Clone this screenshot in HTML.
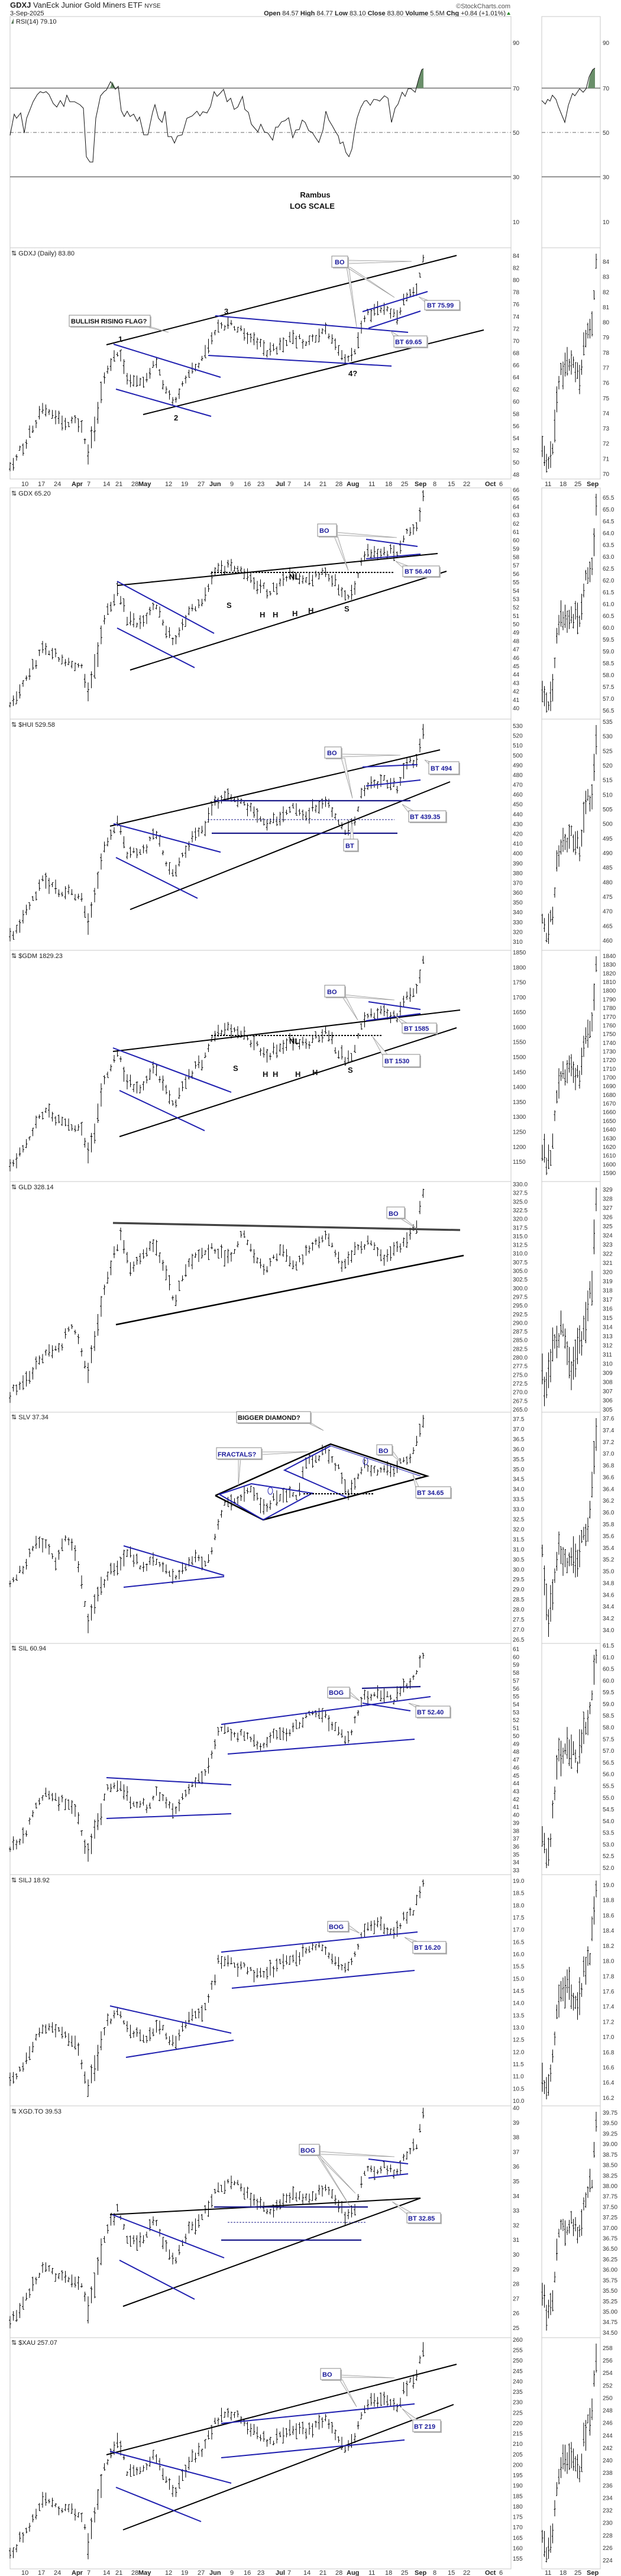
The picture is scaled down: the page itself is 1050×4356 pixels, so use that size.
<!DOCTYPE html>
<html><head><meta charset="utf-8">
<style>
html,body{margin:0;padding:0;background:#fff;}
svg{display:block;}
text{font-family:"Liberation Sans Narrow","Liberation Sans",sans-serif;}
.ax{font-size:10px;fill:#333;}
.ttl{font-size:11px;fill:#222;}
.dt{font-size:11px;fill:#333;}
.dtb{font-size:11px;fill:#222;font-weight:bold;}
.lb{font-size:13px;font-weight:bold;fill:#111;}
.cb{fill:#fff;stroke:#888;stroke-width:1;}
.cs{fill:#bbb;}
.ct{font-size:11px;font-weight:bold;fill:#1a1a9a;}
.ctk{font-size:11px;font-weight:bold;fill:#111;}
.ptr{fill:#f4f4f4;stroke:#999;stroke-width:0.8;}
.bk{stroke:#000;stroke-width:2;fill:none;}
.bl{stroke:#2020b0;stroke-width:2;fill:none;}
.nv{stroke:#1a1a8a;stroke-width:2.2;fill:none;}
.frame{fill:none;stroke:#c8c8c8;stroke-width:1;}
</style></head>
<body>
<svg id="s" width="1050" height="4356" viewBox="0 0 1050 4356" xmlns="http://www.w3.org/2000/svg">
<rect width="1050" height="4356" fill="#fff"/>
<!-- header -->
<text x="17" y="13" style="font-size:13px;fill:#222"><tspan font-weight="bold">GDXJ</tspan> VanEck Junior Gold Miners ETF <tspan style="font-size:10px">NYSE</tspan></text>
<text x="17" y="26" style="font-size:11px;fill:#222">3-Sep-2025</text>
<text x="863" y="14" text-anchor="end" style="font-size:11px;fill:#555">©StockCharts.com</text>
<text x="855" y="26" text-anchor="end" style="font-size:11px;fill:#222"><tspan font-weight="bold">Open</tspan> 84.57 <tspan font-weight="bold">High</tspan> 84.77 <tspan font-weight="bold">Low</tspan> 83.10 <tspan font-weight="bold">Close</tspan> 83.80 <tspan font-weight="bold">Volume</tspan> 5.5M <tspan font-weight="bold">Chg</tspan> +0.84 (+1.01%)</text>
<path d="M857,25 l3,-5 l3,5z" fill="#2a8a2a"/>

<!-- frames -->
<g class="frame">
<rect x="17" y="28" width="847" height="391"/><rect x="916" y="28" width="99" height="391"/>
<rect x="17" y="419" width="847" height="391"/><rect x="916" y="419" width="99" height="391"/>
<rect x="17" y="825" width="847" height="391"/><rect x="916" y="825" width="99" height="391"/>
<rect x="17" y="1216" width="847" height="391"/><rect x="916" y="1216" width="99" height="391"/>
<rect x="17" y="1607" width="847" height="391"/><rect x="916" y="1607" width="99" height="391"/>
<rect x="17" y="1998" width="847" height="390"/><rect x="916" y="1998" width="99" height="390"/>
<rect x="17" y="2388" width="847" height="391"/><rect x="916" y="2388" width="99" height="391"/>
<rect x="17" y="2779" width="847" height="391"/><rect x="916" y="2779" width="99" height="391"/>
<rect x="17" y="3170" width="847" height="391"/><rect x="916" y="3170" width="99" height="391"/>
<rect x="17" y="3561" width="847" height="392"/><rect x="916" y="3561" width="99" height="392"/>
<rect x="17" y="3953" width="847" height="391"/><rect x="916" y="3953" width="99" height="391"/>
</g>

<!-- RSI -->
<text x="27" y="40" class="ttl">RSI(14) 79.10</text>
<path d="M19,40 l4,-9 l0,9z" fill="#5a7a5a"/>
<line x1="17" y1="149" x2="864" y2="149" stroke="#555" stroke-width="1.3"/>
<line x1="17" y1="299" x2="864" y2="299" stroke="#555" stroke-width="1.3"/>
<line x1="17" y1="224" x2="864" y2="224" stroke="#666" stroke-dasharray="6,3,1,3"/>
<line x1="916" y1="149" x2="1015" y2="149" stroke="#555" stroke-width="1.3"/>
<line x1="916" y1="299" x2="1015" y2="299" stroke="#555" stroke-width="1.3"/>
<line x1="916" y1="224" x2="1015" y2="224" stroke="#666" stroke-dasharray="6,3,1,3"/>
<path d="M186,149 L190,138 L195,149Z" fill="#6a8f6a"/>
<path d="M703,149 L708,133 L713,118 L716,116 L716,149Z" fill="#6a8f6a"/>
<path d="M994,149 L997,130 L1002,118 L1006,115 L1006,149Z" fill="#6a8f6a"/>
<polyline fill="none" stroke="#111" stroke-width="1" points="17,229 24,193 28,200 35,191 41,225 45,200 56,172 63,160 68,155 73,157 78,155 83,160 90,175 96,181 102,170 108,180 113,161 118,172 126,172 135,177 141,183 146,265 152,274 157,274 162,200 170,162 176,155 180,152 187,138 195,151 200,146 205,187 210,197 215,188 220,197 226,193 232,205 236,198 243,228 250,228 258,190 262,177 268,200 274,207 279,188 284,231 290,231 295,242 300,230 308,228 316,200 325,196 333,188 338,196 343,189 350,191 356,180 362,155 367,163 372,158 378,151 384,172 390,166 396,185 402,181 410,163 414,185 420,190 425,210 430,216 436,223 441,210 447,223 453,225 461,237 466,215 470,215 476,206 482,204 488,199 495,233 500,220 506,219 511,203 516,207 522,221 528,224 533,232 539,241 546,220 551,188 556,203 562,213 567,222 572,230 575,243 580,240 585,258 590,265 595,252 600,219 604,199 610,182 616,171 620,170 626,178 632,168 638,169 642,171 650,162 656,166 662,207 668,183 673,176 680,156 685,163 690,150 695,150 702,156 708,133 713,118 716,116"/>
<polyline fill="none" stroke="#111" stroke-width="1" points="916,170 922,176 926,168 930,171 934,161 940,168 944,180 955,207 961,178 968,158 972,162 980,150 986,156 991,150 996,130 1002,118 1006,115"/>
<text x="533" y="334" text-anchor="middle" class="lb">Rambus</text>
<text x="528" y="353" text-anchor="middle" class="lb">LOG SCALE</text>
<text class="ax"><tspan x="867" y="76">90</tspan><tspan x="867" y="153">70</tspan><tspan x="867" y="228">50</tspan><tspan x="867" y="303">30</tspan><tspan x="867" y="379">10</tspan></text>
<text class="ax"><tspan x="1019" y="76">90</tspan><tspan x="1019" y="153">70</tspan><tspan x="1019" y="228">50</tspan><tspan x="1019" y="303">30</tspan><tspan x="1019" y="379">10</tspan></text>

<!-- panel titles -->
<g class="ttl">
<text x="19" y="432">⇅ GDXJ (Daily) 83.80</text>
<text x="19" y="838">⇅ GDX 65.20</text>
<text x="19" y="1229">⇅ $HUI 529.58</text>
<text x="19" y="1620">⇅ $GDM 1829.23</text>
<text x="19" y="2011">⇅ GLD 328.14</text>
<text x="19" y="2400">⇅ SLV 37.34</text>
<text x="19" y="2791">⇅ SIL 60.94</text>
<text x="19" y="3183">⇅ SILJ 18.92</text>
<text x="19" y="3574">⇅ XGD.TO 39.53</text>
<text x="19" y="3965">⇅ $XAU 257.07</text>
</g>

<!-- date axes -->
<g id="dates1">
<text class="dt" y="822"><tspan x="36">10</tspan><tspan x="64">17</tspan><tspan x="91">24</tspan><tspan x="147">7</tspan><tspan x="174">14</tspan><tspan x="195">21</tspan><tspan x="222">28</tspan><tspan x="279">12</tspan><tspan x="306">19</tspan><tspan x="334">27</tspan><tspan x="389">9</tspan><tspan x="412">16</tspan><tspan x="435">23</tspan><tspan x="486">7</tspan><tspan x="513">14</tspan><tspan x="540">21</tspan><tspan x="567">28</tspan><tspan x="623">11</tspan><tspan x="651">18</tspan><tspan x="678">25</tspan><tspan x="732">8</tspan><tspan x="757">15</tspan><tspan x="783">22</tspan><tspan x="844">6</tspan><tspan x="921">11</tspan><tspan x="946">18</tspan><tspan x="971">25</tspan></text>
<text class="dtb" y="822"><tspan x="121">Apr</tspan><tspan x="234">May</tspan><tspan x="354">Jun</tspan><tspan x="466">Jul</tspan><tspan x="586">Aug</tspan><tspan x="701">Sep</tspan><tspan x="820">Oct</tspan><tspan x="992">Sep</tspan></text>
</g>
<g>
<text class="dt" y="4354"><tspan x="36">10</tspan><tspan x="64">17</tspan><tspan x="91">24</tspan><tspan x="147">7</tspan><tspan x="174">14</tspan><tspan x="195">21</tspan><tspan x="222">28</tspan><tspan x="279">12</tspan><tspan x="306">19</tspan><tspan x="334">27</tspan><tspan x="389">9</tspan><tspan x="412">16</tspan><tspan x="435">23</tspan><tspan x="486">7</tspan><tspan x="513">14</tspan><tspan x="540">21</tspan><tspan x="567">28</tspan><tspan x="623">11</tspan><tspan x="651">18</tspan><tspan x="678">25</tspan><tspan x="732">8</tspan><tspan x="757">15</tspan><tspan x="783">22</tspan><tspan x="844">6</tspan><tspan x="921">11</tspan><tspan x="946">18</tspan><tspan x="971">25</tspan></text>
<text class="dtb" y="4354"><tspan x="121">Apr</tspan><tspan x="234">May</tspan><tspan x="354">Jun</tspan><tspan x="466">Jul</tspan><tspan x="586">Aug</tspan><tspan x="701">Sep</tspan><tspan x="820">Oct</tspan><tspan x="992">Sep</tspan></text>
</g>

<!-- price axes -->
<g class="ax">
<text x="867" y="436"><tspan x="867" dy="0">84</tspan><tspan x="867" dy="20.56">82</tspan><tspan x="867" dy="20.56">80</tspan><tspan x="867" dy="20.56">78</tspan><tspan x="867" dy="20.56">76</tspan><tspan x="867" dy="20.56">74</tspan><tspan x="867" dy="20.56">72</tspan><tspan x="867" dy="20.56">70</tspan><tspan x="867" dy="20.56">68</tspan><tspan x="867" dy="20.56">66</tspan><tspan x="867" dy="20.56">64</tspan><tspan x="867" dy="20.56">62</tspan><tspan x="867" dy="20.56">60</tspan><tspan x="867" dy="20.56">58</tspan><tspan x="867" dy="20.56">56</tspan><tspan x="867" dy="20.56">54</tspan><tspan x="867" dy="20.56">52</tspan><tspan x="867" dy="20.56">50</tspan><tspan x="867" dy="20.56">48</tspan></text>
<text x="1019" y="446"><tspan x="1019" dy="0">84</tspan><tspan x="1019" dy="25.64">83</tspan><tspan x="1019" dy="25.64">82</tspan><tspan x="1019" dy="25.64">81</tspan><tspan x="1019" dy="25.64">80</tspan><tspan x="1019" dy="25.64">79</tspan><tspan x="1019" dy="25.64">78</tspan><tspan x="1019" dy="25.64">77</tspan><tspan x="1019" dy="25.64">76</tspan><tspan x="1019" dy="25.64">75</tspan><tspan x="1019" dy="25.64">74</tspan><tspan x="1019" dy="25.64">73</tspan><tspan x="1019" dy="25.64">72</tspan><tspan x="1019" dy="25.64">71</tspan><tspan x="1019" dy="25.64">70</tspan></text>

<text x="867" y="832"><tspan x="867" dy="0">66</tspan><tspan x="867" dy="14.19">65</tspan><tspan x="867" dy="14.19">64</tspan><tspan x="867" dy="14.19">63</tspan><tspan x="867" dy="14.19">62</tspan><tspan x="867" dy="14.19">61</tspan><tspan x="867" dy="14.19">60</tspan><tspan x="867" dy="14.19">59</tspan><tspan x="867" dy="14.19">58</tspan><tspan x="867" dy="14.19">57</tspan><tspan x="867" dy="14.19">56</tspan><tspan x="867" dy="14.19">55</tspan><tspan x="867" dy="14.19">54</tspan><tspan x="867" dy="14.19">53</tspan><tspan x="867" dy="14.19">52</tspan><tspan x="867" dy="14.19">51</tspan><tspan x="867" dy="14.19">50</tspan><tspan x="867" dy="14.19">49</tspan><tspan x="867" dy="14.19">48</tspan><tspan x="867" dy="14.19">47</tspan><tspan x="867" dy="14.19">46</tspan><tspan x="867" dy="14.19">45</tspan><tspan x="867" dy="14.19">44</tspan><tspan x="867" dy="14.19">43</tspan><tspan x="867" dy="14.19">42</tspan><tspan x="867" dy="14.19">41</tspan><tspan x="867" dy="14.19">40</tspan></text>
<text x="1019" y="845"><tspan x="1019" dy="0">65.5</tspan><tspan x="1019" dy="20">65.0</tspan><tspan x="1019" dy="20">64.5</tspan><tspan x="1019" dy="20">64.0</tspan><tspan x="1019" dy="20">63.5</tspan><tspan x="1019" dy="20">63.0</tspan><tspan x="1019" dy="20">62.5</tspan><tspan x="1019" dy="20">62.0</tspan><tspan x="1019" dy="20">61.5</tspan><tspan x="1019" dy="20">61.0</tspan><tspan x="1019" dy="20">60.5</tspan><tspan x="1019" dy="20">60.0</tspan><tspan x="1019" dy="20">59.5</tspan><tspan x="1019" dy="20">59.0</tspan><tspan x="1019" dy="20">58.5</tspan><tspan x="1019" dy="20">58.0</tspan><tspan x="1019" dy="20">57.5</tspan><tspan x="1019" dy="20">57.0</tspan><tspan x="1019" dy="20">56.5</tspan></text>

<text x="867" y="1231"><tspan x="867" dy="0">530</tspan><tspan x="867" dy="16.59">520</tspan><tspan x="867" dy="16.59">510</tspan><tspan x="867" dy="16.59">500</tspan><tspan x="867" dy="16.59">490</tspan><tspan x="867" dy="16.59">480</tspan><tspan x="867" dy="16.59">470</tspan><tspan x="867" dy="16.59">460</tspan><tspan x="867" dy="16.59">450</tspan><tspan x="867" dy="16.59">440</tspan><tspan x="867" dy="16.59">430</tspan><tspan x="867" dy="16.59">420</tspan><tspan x="867" dy="16.59">410</tspan><tspan x="867" dy="16.59">400</tspan><tspan x="867" dy="16.59">390</tspan><tspan x="867" dy="16.59">380</tspan><tspan x="867" dy="16.59">370</tspan><tspan x="867" dy="16.59">360</tspan><tspan x="867" dy="16.59">350</tspan><tspan x="867" dy="16.59">340</tspan><tspan x="867" dy="16.59">330</tspan><tspan x="867" dy="16.59">320</tspan><tspan x="867" dy="16.59">310</tspan></text>
<text x="1019" y="1224"><tspan x="1019" dy="0">535</tspan><tspan x="1019" dy="24.67">530</tspan><tspan x="1019" dy="24.67">525</tspan><tspan x="1019" dy="24.67">520</tspan><tspan x="1019" dy="24.67">515</tspan><tspan x="1019" dy="24.67">510</tspan><tspan x="1019" dy="24.67">505</tspan><tspan x="1019" dy="24.67">500</tspan><tspan x="1019" dy="24.67">495</tspan><tspan x="1019" dy="24.67">490</tspan><tspan x="1019" dy="24.67">485</tspan><tspan x="1019" dy="24.67">480</tspan><tspan x="1019" dy="24.67">475</tspan><tspan x="1019" dy="24.67">470</tspan><tspan x="1019" dy="24.67">465</tspan><tspan x="1019" dy="24.67">460</tspan></text>

<text x="867" y="1614"><tspan x="867" dy="0">1850</tspan><tspan x="867" dy="25.29">1800</tspan><tspan x="867" dy="25.29">1750</tspan><tspan x="867" dy="25.29">1700</tspan><tspan x="867" dy="25.29">1650</tspan><tspan x="867" dy="25.29">1600</tspan><tspan x="867" dy="25.29">1550</tspan><tspan x="867" dy="25.29">1500</tspan><tspan x="867" dy="25.29">1450</tspan><tspan x="867" dy="25.29">1400</tspan><tspan x="867" dy="25.29">1350</tspan><tspan x="867" dy="25.29">1300</tspan><tspan x="867" dy="25.29">1250</tspan><tspan x="867" dy="25.29">1200</tspan><tspan x="867" dy="25.29">1150</tspan></text>
<text x="1019" y="1620"><tspan x="1019" dy="0">1840</tspan><tspan x="1019" dy="14.68">1830</tspan><tspan x="1019" dy="14.68">1820</tspan><tspan x="1019" dy="14.68">1810</tspan><tspan x="1019" dy="14.68">1800</tspan><tspan x="1019" dy="14.68">1790</tspan><tspan x="1019" dy="14.68">1780</tspan><tspan x="1019" dy="14.68">1770</tspan><tspan x="1019" dy="14.68">1760</tspan><tspan x="1019" dy="14.68">1750</tspan><tspan x="1019" dy="14.68">1740</tspan><tspan x="1019" dy="14.68">1730</tspan><tspan x="1019" dy="14.68">1720</tspan><tspan x="1019" dy="14.68">1710</tspan><tspan x="1019" dy="14.68">1700</tspan><tspan x="1019" dy="14.68">1690</tspan><tspan x="1019" dy="14.68">1680</tspan><tspan x="1019" dy="14.68">1670</tspan><tspan x="1019" dy="14.68">1660</tspan><tspan x="1019" dy="14.68">1650</tspan><tspan x="1019" dy="14.68">1640</tspan><tspan x="1019" dy="14.68">1630</tspan><tspan x="1019" dy="14.68">1620</tspan><tspan x="1019" dy="14.68">1610</tspan><tspan x="1019" dy="14.68">1600</tspan><tspan x="1019" dy="14.68">1590</tspan></text>

<text x="867" y="2006"><tspan x="867" dy="0">330.0</tspan><tspan x="867" dy="14.65">327.5</tspan><tspan x="867" dy="14.65">325.0</tspan><tspan x="867" dy="14.65">322.5</tspan><tspan x="867" dy="14.65">320.0</tspan><tspan x="867" dy="14.65">317.5</tspan><tspan x="867" dy="14.65">315.0</tspan><tspan x="867" dy="14.65">312.5</tspan><tspan x="867" dy="14.65">310.0</tspan><tspan x="867" dy="14.65">307.5</tspan><tspan x="867" dy="14.65">305.0</tspan><tspan x="867" dy="14.65">302.5</tspan><tspan x="867" dy="14.65">300.0</tspan><tspan x="867" dy="14.65">297.5</tspan><tspan x="867" dy="14.65">295.0</tspan><tspan x="867" dy="14.65">292.5</tspan><tspan x="867" dy="14.65">290.0</tspan><tspan x="867" dy="14.65">287.5</tspan><tspan x="867" dy="14.65">285.0</tspan><tspan x="867" dy="14.65">282.5</tspan><tspan x="867" dy="14.65">280.0</tspan><tspan x="867" dy="14.65">277.5</tspan><tspan x="867" dy="14.65">275.0</tspan><tspan x="867" dy="14.65">272.5</tspan><tspan x="867" dy="14.65">270.0</tspan><tspan x="867" dy="14.65">267.5</tspan><tspan x="867" dy="14.65">265.0</tspan></text>
<text x="1019" y="2015"><tspan x="1019" dy="0">329</tspan><tspan x="1019" dy="15.5">328</tspan><tspan x="1019" dy="15.5">327</tspan><tspan x="1019" dy="15.5">326</tspan><tspan x="1019" dy="15.5">325</tspan><tspan x="1019" dy="15.5">324</tspan><tspan x="1019" dy="15.5">323</tspan><tspan x="1019" dy="15.5">322</tspan><tspan x="1019" dy="15.5">321</tspan><tspan x="1019" dy="15.5">320</tspan><tspan x="1019" dy="15.5">319</tspan><tspan x="1019" dy="15.5">318</tspan><tspan x="1019" dy="15.5">317</tspan><tspan x="1019" dy="15.5">316</tspan><tspan x="1019" dy="15.5">315</tspan><tspan x="1019" dy="15.5">314</tspan><tspan x="1019" dy="15.5">313</tspan><tspan x="1019" dy="15.5">312</tspan><tspan x="1019" dy="15.5">311</tspan><tspan x="1019" dy="15.5">310</tspan><tspan x="1019" dy="15.5">309</tspan><tspan x="1019" dy="15.5">308</tspan><tspan x="1019" dy="15.5">307</tspan><tspan x="1019" dy="15.5">306</tspan><tspan x="1019" dy="15.5">305</tspan></text>

<text x="867" y="2403"><tspan x="867" dy="0">37.5</tspan><tspan x="867" dy="16.95">37.0</tspan><tspan x="867" dy="16.95">36.5</tspan><tspan x="867" dy="16.95">36.0</tspan><tspan x="867" dy="16.95">35.5</tspan><tspan x="867" dy="16.95">35.0</tspan><tspan x="867" dy="16.95">34.5</tspan><tspan x="867" dy="16.95">34.0</tspan><tspan x="867" dy="16.95">33.5</tspan><tspan x="867" dy="16.95">33.0</tspan><tspan x="867" dy="16.95">32.5</tspan><tspan x="867" dy="16.95">32.0</tspan><tspan x="867" dy="16.95">31.5</tspan><tspan x="867" dy="16.95">31.0</tspan><tspan x="867" dy="16.95">30.5</tspan><tspan x="867" dy="16.95">30.0</tspan><tspan x="867" dy="16.95">29.5</tspan><tspan x="867" dy="16.95">29.0</tspan><tspan x="867" dy="16.95">28.5</tspan><tspan x="867" dy="16.95">28.0</tspan><tspan x="867" dy="16.95">27.5</tspan><tspan x="867" dy="16.95">27.0</tspan><tspan x="867" dy="16.95">26.5</tspan></text>
<text x="1019" y="2402"><tspan x="1019" dy="0">37.6</tspan><tspan x="1019" dy="19.89">37.4</tspan><tspan x="1019" dy="19.89">37.2</tspan><tspan x="1019" dy="19.89">37.0</tspan><tspan x="1019" dy="19.89">36.8</tspan><tspan x="1019" dy="19.89">36.6</tspan><tspan x="1019" dy="19.89">36.4</tspan><tspan x="1019" dy="19.89">36.2</tspan><tspan x="1019" dy="19.89">36.0</tspan><tspan x="1019" dy="19.89">35.8</tspan><tspan x="1019" dy="19.89">35.6</tspan><tspan x="1019" dy="19.89">35.4</tspan><tspan x="1019" dy="19.89">35.2</tspan><tspan x="1019" dy="19.89">35.0</tspan><tspan x="1019" dy="19.89">34.8</tspan><tspan x="1019" dy="19.89">34.6</tspan><tspan x="1019" dy="19.89">34.4</tspan><tspan x="1019" dy="19.89">34.2</tspan><tspan x="1019" dy="19.89">34.0</tspan></text>

<text x="867" y="2792"><tspan x="867" dy="0">61</tspan><tspan x="867" dy="13.36">60</tspan><tspan x="867" dy="13.36">59</tspan><tspan x="867" dy="13.36">58</tspan><tspan x="867" dy="13.36">57</tspan><tspan x="867" dy="13.36">56</tspan><tspan x="867" dy="13.36">55</tspan><tspan x="867" dy="13.36">54</tspan><tspan x="867" dy="13.36">53</tspan><tspan x="867" dy="13.36">52</tspan><tspan x="867" dy="13.36">51</tspan><tspan x="867" dy="13.36">50</tspan><tspan x="867" dy="13.36">49</tspan><tspan x="867" dy="13.36">48</tspan><tspan x="867" dy="13.36">47</tspan><tspan x="867" dy="13.36">46</tspan><tspan x="867" dy="13.36">45</tspan><tspan x="867" dy="13.36">44</tspan><tspan x="867" dy="13.36">43</tspan><tspan x="867" dy="13.36">42</tspan><tspan x="867" dy="13.36">41</tspan><tspan x="867" dy="13.36">40</tspan><tspan x="867" dy="13.36">39</tspan><tspan x="867" dy="13.36">38</tspan><tspan x="867" dy="13.36">37</tspan><tspan x="867" dy="13.36">36</tspan><tspan x="867" dy="13.36">35</tspan><tspan x="867" dy="13.36">34</tspan><tspan x="867" dy="13.36">33</tspan></text>
<text x="1019" y="2786"><tspan x="1019" dy="0">61.5</tspan><tspan x="1019" dy="19.79">61.0</tspan><tspan x="1019" dy="19.79">60.5</tspan><tspan x="1019" dy="19.79">60.0</tspan><tspan x="1019" dy="19.79">59.5</tspan><tspan x="1019" dy="19.79">59.0</tspan><tspan x="1019" dy="19.79">58.5</tspan><tspan x="1019" dy="19.79">58.0</tspan><tspan x="1019" dy="19.79">57.5</tspan><tspan x="1019" dy="19.79">57.0</tspan><tspan x="1019" dy="19.79">56.5</tspan><tspan x="1019" dy="19.79">56.0</tspan><tspan x="1019" dy="19.79">55.5</tspan><tspan x="1019" dy="19.79">55.0</tspan><tspan x="1019" dy="19.79">54.5</tspan><tspan x="1019" dy="19.79">54.0</tspan><tspan x="1019" dy="19.79">53.5</tspan><tspan x="1019" dy="19.79">53.0</tspan><tspan x="1019" dy="19.79">52.5</tspan><tspan x="1019" dy="19.79">52.0</tspan></text>

<text x="867" y="3184"><tspan x="867" dy="0">19.0</tspan><tspan x="867" dy="20.67">18.5</tspan><tspan x="867" dy="20.67">18.0</tspan><tspan x="867" dy="20.67">17.5</tspan><tspan x="867" dy="20.67">17.0</tspan><tspan x="867" dy="20.67">16.5</tspan><tspan x="867" dy="20.67">16.0</tspan><tspan x="867" dy="20.67">15.5</tspan><tspan x="867" dy="20.67">15.0</tspan><tspan x="867" dy="20.67">14.5</tspan><tspan x="867" dy="20.67">14.0</tspan><tspan x="867" dy="20.67">13.5</tspan><tspan x="867" dy="20.67">13.0</tspan><tspan x="867" dy="20.67">12.5</tspan><tspan x="867" dy="20.67">12.0</tspan><tspan x="867" dy="20.67">11.5</tspan><tspan x="867" dy="20.67">11.0</tspan><tspan x="867" dy="20.67">10.5</tspan><tspan x="867" dy="20.67">10.0</tspan></text>
<text x="1019" y="3191"><tspan x="1019" dy="0">19.0</tspan><tspan x="1019" dy="25.71">18.8</tspan><tspan x="1019" dy="25.71">18.6</tspan><tspan x="1019" dy="25.71">18.4</tspan><tspan x="1019" dy="25.71">18.2</tspan><tspan x="1019" dy="25.71">18.0</tspan><tspan x="1019" dy="25.71">17.8</tspan><tspan x="1019" dy="25.71">17.6</tspan><tspan x="1019" dy="25.71">17.4</tspan><tspan x="1019" dy="25.71">17.2</tspan><tspan x="1019" dy="25.71">17.0</tspan><tspan x="1019" dy="25.71">16.8</tspan><tspan x="1019" dy="25.71">16.6</tspan><tspan x="1019" dy="25.71">16.4</tspan><tspan x="1019" dy="25.71">16.2</tspan></text>

<text x="867" y="3568"><tspan x="867" dy="0">40</tspan><tspan x="867" dy="24.8">39</tspan><tspan x="867" dy="24.8">38</tspan><tspan x="867" dy="24.8">37</tspan><tspan x="867" dy="24.8">36</tspan><tspan x="867" dy="24.8">35</tspan><tspan x="867" dy="24.8">34</tspan><tspan x="867" dy="24.8">33</tspan><tspan x="867" dy="24.8">32</tspan><tspan x="867" dy="24.8">31</tspan><tspan x="867" dy="24.8">30</tspan><tspan x="867" dy="24.8">29</tspan><tspan x="867" dy="24.8">28</tspan><tspan x="867" dy="24.8">27</tspan><tspan x="867" dy="24.8">26</tspan><tspan x="867" dy="24.8">25</tspan></text>
<text x="1019" y="3576"><tspan x="1019" dy="0">39.75</tspan><tspan x="1019" dy="17.71">39.50</tspan><tspan x="1019" dy="17.71">39.25</tspan><tspan x="1019" dy="17.71">39.00</tspan><tspan x="1019" dy="17.71">38.75</tspan><tspan x="1019" dy="17.71">38.50</tspan><tspan x="1019" dy="17.71">38.25</tspan><tspan x="1019" dy="17.71">38.00</tspan><tspan x="1019" dy="17.71">37.75</tspan><tspan x="1019" dy="17.71">37.50</tspan><tspan x="1019" dy="17.71">37.25</tspan><tspan x="1019" dy="17.71">37.00</tspan><tspan x="1019" dy="17.71">36.75</tspan><tspan x="1019" dy="17.71">36.50</tspan><tspan x="1019" dy="17.71">36.25</tspan><tspan x="1019" dy="17.71">36.00</tspan><tspan x="1019" dy="17.71">35.75</tspan><tspan x="1019" dy="17.71">35.50</tspan><tspan x="1019" dy="17.71">35.25</tspan><tspan x="1019" dy="17.71">35.00</tspan><tspan x="1019" dy="17.71">34.75</tspan><tspan x="1019" dy="17.71">34.50</tspan></text>

<text x="867" y="3960"><tspan x="867" dy="0">260</tspan><tspan x="867" dy="17.62">255</tspan><tspan x="867" dy="17.62">250</tspan><tspan x="867" dy="17.62">245</tspan><tspan x="867" dy="17.62">240</tspan><tspan x="867" dy="17.62">235</tspan><tspan x="867" dy="17.62">230</tspan><tspan x="867" dy="17.62">225</tspan><tspan x="867" dy="17.62">220</tspan><tspan x="867" dy="17.62">215</tspan><tspan x="867" dy="17.62">210</tspan><tspan x="867" dy="17.62">205</tspan><tspan x="867" dy="17.62">200</tspan><tspan x="867" dy="17.62">195</tspan><tspan x="867" dy="17.62">190</tspan><tspan x="867" dy="17.62">185</tspan><tspan x="867" dy="17.62">180</tspan><tspan x="867" dy="17.62">175</tspan><tspan x="867" dy="17.62">170</tspan><tspan x="867" dy="17.62">165</tspan><tspan x="867" dy="17.62">160</tspan><tspan x="867" dy="17.62">155</tspan></text>
<text x="1019" y="3974"><tspan x="1019" dy="0">258</tspan><tspan x="1019" dy="21.12">256</tspan><tspan x="1019" dy="21.12">254</tspan><tspan x="1019" dy="21.12">252</tspan><tspan x="1019" dy="21.12">250</tspan><tspan x="1019" dy="21.12">248</tspan><tspan x="1019" dy="21.12">246</tspan><tspan x="1019" dy="21.12">244</tspan><tspan x="1019" dy="21.12">242</tspan><tspan x="1019" dy="21.12">240</tspan><tspan x="1019" dy="21.12">238</tspan><tspan x="1019" dy="21.12">236</tspan><tspan x="1019" dy="21.12">234</tspan><tspan x="1019" dy="21.12">232</tspan><tspan x="1019" dy="21.12">230</tspan><tspan x="1019" dy="21.12">228</tspan><tspan x="1019" dy="21.12">226</tspan><tspan x="1019" dy="21.12">224</tspan></text>
</g>

<g id="bars" stroke="#000" stroke-width="1" fill="none"></g>

<!-- ===== annotations ===== -->
<!-- GDXJ -->
<g>
<line class="bk" x1="180" y1="583" x2="772" y2="432"/>
<line class="bk" x1="242" y1="701" x2="818" y2="558"/>
<line class="bl" x1="192" y1="582" x2="373" y2="638"/>
<line class="bl" x1="196" y1="658" x2="357" y2="704"/>
<line class="bl" x1="364" y1="534" x2="690" y2="562"/>
<line class="bl" x1="352" y1="601" x2="662" y2="619"/>
<line class="bl" x1="613" y1="527" x2="723" y2="493"/>
<line class="bl" x1="623" y1="555" x2="711" y2="526"/>
<text x="200" y="578" class="lb">1</text><text x="294" y="711" class="lb">2</text><text x="379" y="531" class="lb">3</text><text x="589" y="636" class="lb">4?</text>
<path class="ptr" d="M240,551 L285,562 L250,551Z"/>
<rect class="cs" x="119" y="535" width="137" height="19"/><rect class="cb" x="117" y="533" width="137" height="19"/><text x="120" y="547" class="ctk">BULLISH RISING FLAG?</text>
<path class="ptr" d="M588,440 L696,442 L588,446Z"/>
<path class="ptr" d="M586,452 L603,553 L590,452Z"/>
<path class="ptr" d="M586,452 L667,503 L592,452Z"/>
<rect class="cs" x="563" y="435" width="27" height="19"/><rect class="cb" x="561" y="433" width="27" height="19"/><text x="566" y="447" class="ct">BO</text>
<path class="ptr" d="M718,510 L708,502 L724,508Z"/>
<rect class="cs" x="720" y="510" width="59" height="16"/><rect class="cb" x="718" y="508" width="59" height="16"/><text x="722" y="520" class="ct">BT 75.99</text>
<path class="ptr" d="M666,570 L661,560 L674,568Z"/>
<rect class="cs" x="668" y="570" width="56" height="19"/><rect class="cb" x="666" y="568" width="56" height="19"/><text x="668" y="582" class="ct">BT 69.65</text>
</g>

<!-- GDX -->
<g>
<line class="bk" x1="198" y1="990" x2="740" y2="936"/>
<line class="bk" x1="220" y1="1133" x2="755" y2="966"/>
<line class="bl" x1="198" y1="983" x2="362" y2="1071"/>
<line class="bl" x1="198" y1="1062" x2="329" y2="1129"/>
<line x1="357" y1="968" x2="667" y2="968" stroke="#000" stroke-width="2" stroke-dasharray="3,2"/>
<line class="bl" x1="619" y1="912" x2="706" y2="924"/>
<line class="bl" x1="619" y1="945" x2="711" y2="937"/>
<text x="383" y="1028" class="lb">S</text><text x="439" y="1044" class="lb">H</text><text x="461" y="1044" class="lb">H</text><text x="494" y="1042" class="lb">H</text><text x="521" y="1037" class="lb">H</text><text x="582" y="1034" class="lb">S</text><text x="489" y="980" class="lb">NL</text>
<path class="ptr" d="M569,900 L671,909 L569,905Z"/>
<path class="ptr" d="M565,907 L589,965 L571,907Z"/>
<rect class="cs" x="539" y="888" width="32" height="21"/><rect class="cb" x="537" y="886" width="32" height="21"/><text x="540" y="901" class="ct">BO</text>
<path class="ptr" d="M681,960 L669,949 L690,957Z"/>
<rect class="cs" x="683" y="959" width="62" height="18"/><rect class="cb" x="681" y="957" width="62" height="18"/><text x="684" y="970" class="ct">BT 56.40</text>
</g>

<!-- HUI -->
<g>
<line class="bk" x1="186" y1="1397" x2="744" y2="1268"/>
<line class="bk" x1="220" y1="1538" x2="761" y2="1322"/>
<line class="bl" x1="192" y1="1393" x2="373" y2="1441"/>
<line class="bl" x1="196" y1="1450" x2="334" y2="1519"/>
<line class="nv" x1="362" y1="1354" x2="694" y2="1354"/>
<line class="nv" x1="358" y1="1409" x2="672" y2="1409"/>
<line x1="351" y1="1386" x2="667" y2="1386" stroke="#1a1a8a" stroke-width="1" stroke-dasharray="3,2"/>
<line class="bl" x1="613" y1="1297" x2="706" y2="1293"/>
<line class="bl" x1="619" y1="1329" x2="711" y2="1319"/>
<path class="ptr" d="M577,1275 L677,1277 L577,1280Z"/>
<path class="ptr" d="M577,1282 L596,1350 L583,1282Z"/>
<rect class="cs" x="551" y="1265" width="28" height="19"/><rect class="cb" x="549" y="1263" width="28" height="19"/><text x="553" y="1277" class="ct">BO</text>
<path class="ptr" d="M725,1292 L718,1285 L733,1290Z"/>
<rect class="cs" x="727" y="1290" width="51" height="21"/><rect class="cb" x="725" y="1288" width="51" height="21"/><text x="728" y="1303" class="ct">BT 494</text>
<path class="ptr" d="M691,1374 L680,1360 L699,1371Z"/>
<rect class="cs" x="693" y="1373" width="63" height="19"/><rect class="cb" x="691" y="1371" width="63" height="19"/><text x="693" y="1385" class="ct">BT 439.35</text>
<path class="ptr" d="M592,1419 L595,1389 L598,1419Z"/>
<rect class="cs" x="583" y="1421" width="24" height="20"/><rect class="cb" x="581" y="1419" width="24" height="20"/><text x="584" y="1434" class="ct">BT</text>
</g>

<!-- GDM -->
<g>
<line class="bk" x1="191" y1="1778" x2="778" y2="1708"/>
<line class="bk" x1="202" y1="1922" x2="772" y2="1738"/>
<line class="bl" x1="191" y1="1772" x2="391" y2="1847"/>
<line class="bl" x1="202" y1="1844" x2="346" y2="1912"/>
<line x1="357" y1="1751" x2="646" y2="1751" stroke="#000" stroke-width="2" stroke-dasharray="3,2"/>
<line class="bl" x1="623" y1="1694" x2="711" y2="1707"/>
<line class="bl" x1="619" y1="1726" x2="711" y2="1714"/>
<text x="394" y="1811" class="lb">S</text><text x="444" y="1821" class="lb">H</text><text x="461" y="1821" class="lb">H</text><text x="499" y="1821" class="lb">H</text><text x="528" y="1818" class="lb">H</text><text x="588" y="1814" class="lb">S</text><text x="489" y="1765" class="lb">NL</text>
<path class="ptr" d="M583,1682 L667,1691 L583,1686Z"/>
<path class="ptr" d="M579,1686 L605,1725 L585,1686Z"/>
<rect class="cs" x="551" y="1668" width="34" height="20"/><rect class="cb" x="549" y="1666" width="34" height="20"/><text x="553" y="1681" class="ct">BO</text>
<path class="ptr" d="M680,1732 L669,1718 L688,1730Z"/>
<rect class="cs" x="682" y="1732" width="58" height="17"/><rect class="cb" x="680" y="1730" width="58" height="17"/><text x="683" y="1743" class="ct">BT 1585</text>
<path class="ptr" d="M647,1785 L630,1753 L655,1783Z"/>
<rect class="cs" x="649" y="1785" width="63" height="21"/><rect class="cb" x="647" y="1783" width="63" height="21"/><text x="650" y="1798" class="ct">BT 1530</text>
</g>

<!-- GLD -->
<g>
<line x1="191" y1="2068" x2="778" y2="2080" stroke="#000" stroke-width="3"/>
<line x1="191" y1="2068" x2="778" y2="2080" stroke="#888" stroke-width="1"/>
<line class="bk" x1="196" y1="2240" x2="784" y2="2123" style="stroke-width:2.5"/>
<path class="ptr" d="M676,2060 L705,2078 L684,2060Z"/>
<rect class="cs" x="656" y="2043" width="30" height="19"/><rect class="cb" x="654" y="2041" width="30" height="19"/><text x="657" y="2056" class="ct">BO</text>
</g>

<!-- SLV -->
<g>
<line class="bl" x1="209" y1="2614" x2="379" y2="2664"/>
<line class="bl" x1="209" y1="2684" x2="379" y2="2666"/>
<polyline class="bk" points="364,2529 559,2442 722,2496 445,2570 364,2529" style="stroke-width:2.5"/>
<polygon class="bl" points="371,2527 425,2509 528,2525 445,2570"/>
<polyline class="bl" points="586,2532 481,2486 559,2445"/>
<line x1="559" y1="2445" x2="711" y2="2496" stroke="#2020b0" stroke-width="1"/>
<line x1="513" y1="2526" x2="633" y2="2526" stroke="#000" stroke-width="2" stroke-dasharray="3,2"/>
<ellipse cx="457" cy="2521" rx="4" ry="6" fill="none" stroke="#2020b0"/>
<ellipse cx="618" cy="2471" rx="4" ry="6" fill="none" stroke="#2020b0"/>
<path class="ptr" d="M520,2406 L547,2419 L526,2406Z"/>
<rect class="cs" x="402" y="2389" width="125" height="19"/><rect class="cb" x="400" y="2387" width="125" height="19"/><text x="402" y="2401" class="ctk">BIGGER DIAMOND?</text>
<path class="ptr" d="M442,2455 L522,2455 L442,2460Z"/>
<path class="ptr" d="M403,2467 L403,2512 L407,2467Z"/>
<rect class="cs" x="368" y="2450" width="76" height="19"/><rect class="cb" x="366" y="2448" width="76" height="19"/><text x="368" y="2463" class="ct">FRACTALS?</text>
<path class="ptr" d="M660,2458 L678,2473 L663,2452Z"/>
<rect class="cs" x="639" y="2445" width="26" height="17"/><rect class="cb" x="637" y="2443" width="26" height="17"/><text x="640" y="2457" class="ct">BO</text>
<path class="ptr" d="M703,2516 L698,2493 L708,2514Z"/>
<rect class="cs" x="705" y="2516" width="59" height="19"/><rect class="cb" x="703" y="2514" width="59" height="19"/><text x="705" y="2528" class="ct">BT 34.65</text>
</g>

<!-- SIL -->
<g>
<line class="bl" x1="180" y1="3006" x2="391" y2="3018"/>
<line class="bl" x1="180" y1="3075" x2="391" y2="3067"/>
<line class="bl" x1="374" y1="2916" x2="728" y2="2869"/>
<line class="bl" x1="385" y1="2966" x2="701" y2="2941"/>
<line class="nv" x1="612" y1="2855" x2="711" y2="2852"/>
<line class="bl" x1="613" y1="2880" x2="694" y2="2893"/>
<path class="ptr" d="M589,2865 L608,2876 L591,2860Z"/>
<rect class="cs" x="556" y="2855" width="37" height="18"/><rect class="cb" x="554" y="2853" width="37" height="18"/><text x="556" y="2866" class="ct">BOG</text>
<path class="ptr" d="M703,2887 L691,2880 L711,2885Z"/>
<rect class="cs" x="705" y="2887" width="58" height="19"/><rect class="cb" x="703" y="2885" width="58" height="19"/><text x="705" y="2899" class="ct">BT 52.40</text>
</g>

<!-- SILJ -->
<g>
<line class="bl" x1="186" y1="3392" x2="391" y2="3438"/>
<line class="bl" x1="213" y1="3479" x2="395" y2="3450"/>
<line class="bl" x1="374" y1="3301" x2="706" y2="3267"/>
<line class="bl" x1="392" y1="3362" x2="701" y2="3332"/>
<path class="ptr" d="M587,3260 L608,3269 L589,3255Z"/>
<rect class="cs" x="556" y="3251" width="35" height="17"/><rect class="cb" x="554" y="3249" width="35" height="17"/><text x="556" y="3262" class="ct">BOG</text>
<path class="ptr" d="M698,3286 L684,3276 L706,3283Z"/>
<rect class="cs" x="700" y="3285" width="56" height="20"/><rect class="cb" x="698" y="3283" width="56" height="20"/><text x="700" y="3297" class="ct">BT 16.20</text>
</g>

<!-- XGD -->
<g>
<line class="bk" x1="186" y1="3745" x2="711" y2="3717"/>
<line class="bk" x1="208" y1="3900" x2="711" y2="3717"/>
<line class="bl" x1="190" y1="3745" x2="379" y2="3818"/>
<line class="bl" x1="202" y1="3822" x2="329" y2="3888"/>
<line class="nv" x1="362" y1="3732" x2="622" y2="3732"/>
<line class="nv" x1="374" y1="3788" x2="611" y2="3788"/>
<line x1="385" y1="3758" x2="618" y2="3758" stroke="#1a1a8a" stroke-width="1" stroke-dasharray="3,2"/>
<line class="bl" x1="623" y1="3651" x2="690" y2="3659"/>
<line class="bl" x1="623" y1="3683" x2="690" y2="3676"/>
<path class="ptr" d="M540,3638 L667,3647 L540,3643Z"/>
<path class="ptr" d="M536,3644 L601,3709 L541,3644Z"/>
<path class="ptr" d="M536,3644 L593,3733 L539,3644Z"/>
<rect class="cs" x="508" y="3628" width="34" height="18"/><rect class="cb" x="506" y="3626" width="34" height="18"/><text x="508" y="3640" class="ct">BOG</text>
<path class="ptr" d="M688,3744 L663,3723 L696,3742Z"/>
<rect class="cs" x="690" y="3744" width="57" height="17"/><rect class="cb" x="688" y="3742" width="57" height="17"/><text x="690" y="3755" class="ct">BT 32.85</text>
</g>

<!-- XAU -->
<g>
<line class="bk" x1="180" y1="4151" x2="772" y2="3998"/>
<line class="bk" x1="208" y1="4278" x2="767" y2="4066"/>
<line class="bl" x1="186" y1="4145" x2="391" y2="4199"/>
<line class="bl" x1="196" y1="4206" x2="340" y2="4264"/>
<line class="bl" x1="374" y1="4098" x2="701" y2="4065"/>
<line class="bl" x1="374" y1="4156" x2="684" y2="4126"/>
<path class="ptr" d="M576,4016 L667,4021 L576,4020Z"/>
<path class="ptr" d="M574,4024 L603,4070 L579,4024Z"/>
<rect class="cs" x="544" y="4007" width="34" height="19"/><rect class="cb" x="542" y="4005" width="34" height="19"/><text x="545" y="4019" class="ct">BO</text>
<path class="ptr" d="M698,4094 L680,4073 L706,4092Z"/>
<rect class="cs" x="700" y="4094" width="47" height="20"/><rect class="cb" x="698" y="4092" width="47" height="20"/><text x="700" y="4107" class="ct">BT 219</text>
</g>
</svg>
<script>
(function(){
var MINER=[[17,369],[40,335],[75,269],[100,290],[140,300],[148,352],[160,305],[175,225],[200,172],[215,225],[240,230],[262,192],[280,240],[295,262],[320,210],[345,185],[365,138],[395,130],[430,159],[455,179],[490,152],[520,159],[550,139],[585,189],[600,172],[612,125],[620,112],[650,105],[672,115],[690,75],[705,69],[712,32],[717,12]];
var GLD=[[17,360],[50,326],[75,293],[100,283],[120,246],[130,253],[148,326],[162,260],[175,186],[190,133],[205,93],[220,146],[260,103],[275,136],[295,206],[320,133],[360,113],[390,133],[410,80],[445,153],[475,120],[500,143],[550,86],[580,150],[600,116],[620,103],[650,130],[680,110],[695,90],[705,76],[712,30],[717,11]];
var SLV=[[17,289],[40,262],[60,225],[75,222],[95,255],[110,209],[125,225],[140,292],[148,362],[165,315],[180,275],[200,259],[215,235],[240,265],[265,249],[295,279],[330,245],[355,255],[365,205],[380,159],[395,149],[425,129],[445,165],[470,142],[505,139],[515,89],[550,65],[575,99],[590,139],[615,85],[640,105],[670,92],[690,82],[705,52],[712,22],[717,15]];
var SIL=[[17,348],[40,328],[60,277],[75,256],[100,266],[130,282],[148,363],[165,307],[180,251],[200,236],[220,267],[250,277],[265,251],[295,284],[320,241],[345,226],[360,190],[370,144],[400,154],[440,172],[470,154],[500,144],[520,124],[550,124],[585,164],[605,124],[615,93],[640,85],[665,96],[685,73],[700,62],[708,37],[713,22],[717,11]];
var panels=[[419,MINER,1],[825,MINER,2],[1216,MINER,3],[1607,MINER,4],[1998,GLD,5],[2388,SLV,6],[2779,SIL,7],[3170,SIL,8],[3561,MINER,9],[3953,MINER,10]];
function interp(k,x){for(var i=0;i<k.length-1;i++){if(x<=k[i+1][0]){var t=(x-k[i][0])/(k[i+1][0]-k[i][0]);return k[i][1]+t*(k[i+1][1]-k[i][1]);}}return k[k.length-1][1];}
var d="";
panels.forEach(function(p){
 var seed=p[2]*9301+49297;
 function r(){seed=(seed*9301+49297)%233280;return seed/233280;}
 var bars=[];
 for(var i=0;i<128;i++){
  var x=17+i*5.5; if(x>717)x=717;
  var c=interp(p[1],x)+(r()-0.5)*12;
  var h=4+r()*9; if(i>=24&&i<=28)h+=10;
  var hi=c-h, lo=c+h*(0.6+r()*0.6);
  var o=hi+r()*(lo-hi), cl=hi+r()*(lo-hi);
  bars.push([x,hi,lo,o,cl]);
 }
 bars.forEach(function(b){var t=p[0];
  d+="M"+b[0].toFixed(1)+","+(t+Math.max(2,b[1])).toFixed(1)+"V"+(t+Math.min(388,b[2])).toFixed(1)+
     "M"+(b[0]-2).toFixed(1)+","+(t+b[3]).toFixed(1)+"h2M"+b[0].toFixed(1)+","+(t+b[4]).toFixed(1)+"h2";});
 var sub=bars.slice(101), mn=1e9, mx=-1e9;
 sub.forEach(function(b){mn=Math.min(mn,b[1]);mx=Math.max(mx,b[2]);});
 function m(v){return p[0]+10+(v-mn)/(mx-mn)*370;}
 sub.forEach(function(b,j){var x=917+j*3.5;
  d+="M"+x.toFixed(1)+","+m(b[1]).toFixed(1)+"V"+m(b[2]).toFixed(1)+
     "M"+(x-1.5).toFixed(1)+","+m(b[3]).toFixed(1)+"h1.5M"+x.toFixed(1)+","+m(b[4]).toFixed(1)+"h1.5";});
});
var pa=document.createElementNS("http://www.w3.org/2000/svg","path");
pa.setAttribute("d",d);
document.getElementById("bars").appendChild(pa);
})();
</script>
</body></html>
